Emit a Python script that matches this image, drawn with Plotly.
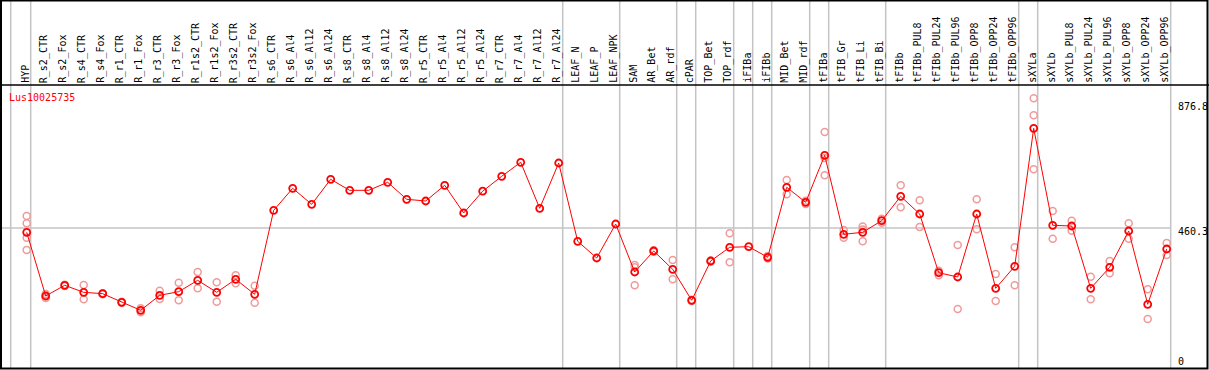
import plotly.graph_objects as go

categories = ["HYP", "R_s2_CTR", "R_s2_Fox", "R_s4_CTR", "R_s4_Fox", "R_r1_CTR", "R_r1_Fox",
              "R_r3_CTR", "R_r3_Fox", "R_r1s2_CTR", "R_r1s2_Fox", "R_r3s2_CTR", "R_r3s2_Fox",
              "R_s6_CTR", "R_s6_Al4", "R_s6_Al12", "R_s6_Al24", "R_s8_CTR", "R_s8_Al4", "R_s8_Al12",
              "R_s8_Al24", "R_r5_CTR", "R_r5_Al4", "R_r5_Al12", "R_r5_Al24", "R_r7_CTR", "R_r7_Al4",
              "R_r7_Al12", "R_r7_Al24", "LEAF_N", "LEAF_P", "LEAF_NPK", "SAM", "AR_Bet", "AR_rdf",
              "cPAR", "TOP_Bet", "TOP_rdf", "iFIBa", "iFIBb", "MID_Bet", "MID_rdf", "tFIBa",
              "tFIB_Gr", "tFIB_Li", "tFIB_Bi", "tFIBb", "tFIBb_PUL8", "tFIBb_PUL24", "tFIBb_PUL96",
              "tFIBb_OPP8", "tFIBb_OPP24", "tFIBb_OPP96", "sXYLa", "sXYLb", "sXYLb_PUL8",
              "sXYLb_PUL24", "sXYLb_PUL96", "sXYLb_OPP8", "sXYLb_OPP24", "sXYLb_OPP96"]

means = [445.9, 233.5, 269.1, 245.8, 241.2, 212.4, 185.7, 235.8, 247.8, 285.8, 245.8, 289.1, 239.1,
         519.2, 592.6, 539.3, 622.6, 585.9, 585.9, 612.6, 555.9, 550.3, 602.6, 510.3, 582.9, 632.6,
         679.3, 525.9, 677.0, 415.9, 360.2, 473.6, 313.5, 383.5, 322.4, 219.1, 350.2, 395.9, 397.9,
         362.5, 596.0, 545.9, 702.6, 439.2, 445.9, 484.6, 565.9, 506.9, 311.2, 296.8, 506.9, 259.1,
         332.4, 792.7, 469.2, 466.9, 259.1, 329.2, 450.2, 205.8, 390.2]

replicates = [
    [500.3, 475.9, 427.9, 386.9], [240, 227], [271, 267], [270.1, 222.3], [243, 239], [214, 211],
    [192.4, 179], [251.2, 223.4], [277.8, 219.1], [313.5, 259.1], [279.1, 214.4], [302.5, 275.8],
    [267.8, 211.1],
    [], [], [], [], [], [], [], [], [], [], [], [], [], [], [], [],
    [], [], [],
    [336.8, 329.2, 269.1], [386, 381], [353.5, 289.1], [221, 217], [352, 348], [442.6, 345.8],
    [], [366.8, 358.2], [620.3, 572.6], [551, 540], [780.4, 693.7, 636.0], [453.6, 427.9],
    [465, 455, 416], [491, 478], [602.6, 529.3], [552.6, 463.6], [318, 303], [403.5, 190.1],
    [555.9, 455.9], [306.8, 216.8], [395.9, 269.1], [892.8, 836.1, 656.0], [516.9, 424.6],
    [484.6, 451.2], [297.8, 222.4], [350.2, 309.2], [475.9, 424.6], [255.8, 156.7], [410.2, 370.2]]

group_ends = [-1, 0, 28, 31, 34, 35, 37, 38, 39, 41, 42, 45, 52, 53, 60]
gene = "Lus10025735"
ytick_vals = [876.8, 460.3, 0]

W, H = 1209, 370
X0, DX = 26.7, 19.0        # pixel of first column, pixel step
Y0, SY = 366.0, 3.335      # pixel of value 0, units per pixel

def px2x(p):
    return (p - X0) / DX

def py2paper(p):
    return 1 - p / H

idx = list(range(len(categories)))
rx, ry = [], []
for i, reps in enumerate(replicates):
    for v in reps:
        rx.append(i)
        ry.append(v)

fig = go.Figure()
fig.add_trace(go.Scatter(x=rx, y=ry, mode="markers",
                         marker=dict(symbol="circle-open", size=7, color="#f09a9a",
                                     line=dict(width=1.5, color="#f09a9a")),
                         hoverinfo="skip"))
fig.add_trace(go.Scatter(x=idx, y=means, mode="lines+markers",
                         line=dict(color="#ff0000", width=1),
                         marker=dict(symbol="circle-open", size=7, color="#ff0000",
                                     line=dict(width=1.8, color="#ff0000"))))

shapes = []
for g in group_ends:
    xb = g + 4.0 / DX if g >= 0 else px2x(10.7)
    shapes.append(dict(type="line", xref="x", yref="paper", x0=xb, x1=xb,
                       y0=py2paper(368), y1=py2paper(0),
                       line=dict(color="#c4c4c4", width=1.5), layer="below"))
shapes.append(dict(type="line", xref="paper", yref="y", x0=1 / W, x1=1170.5 / W,
                   y0=ytick_vals[1], y1=ytick_vals[1],
                   line=dict(color="#c4c4c4", width=1.5), layer="below"))
shapes.append(dict(type="line", xref="paper", yref="paper", x0=0, x1=1,
                   y0=py2paper(85), y1=py2paper(85), line=dict(color="black", width=1.5)))
shapes.append(dict(type="rect", xref="paper", yref="paper", x0=1 / W, x1=1207.5 / W,
                   y0=py2paper(368.5), y1=py2paper(0.5), line=dict(color="black", width=2)))

annotations = []
font = dict(family="DejaVu Sans Mono", size=10, color="black")
for i, c in enumerate(categories):
    annotations.append(dict(x=i - 2.0 / DX, y=py2paper(84), xref="x", yref="paper",
                            text=c, textangle=-90, showarrow=False, xanchor="center",
                            yanchor="bottom", font=font, borderpad=0))
annotations.append(dict(x=8 / W, y=py2paper(97.5), xref="paper", yref="paper", text=gene,
                        showarrow=False, xanchor="left", yanchor="middle", borderpad=0,
                        font=dict(family="DejaVu Sans Mono", size=10, color="#ff0000")))
for v, pyc in zip(ytick_vals, [106.7, 231.7, 361.7]):
    annotations.append(dict(x=1177 / W, y=py2paper(pyc), xref="paper", yref="paper",
                            text=("%g" % v if v == 0 else "%.1f" % v), showarrow=False,
                            xanchor="left", yanchor="middle", borderpad=0, font=font))

fig.update_layout(
    width=W, height=H, margin=dict(l=0, r=0, t=0, b=0),
    paper_bgcolor="white", plot_bgcolor="white", showlegend=False,
    xaxis=dict(range=[px2x(0), px2x(W)], visible=False, fixedrange=True),
    yaxis=dict(range=[(Y0 - H) * SY, Y0 * SY], visible=False, fixedrange=True),
    shapes=shapes, annotations=annotations,
)
fig.write_html("out.html", config={"displayModeBar": False},
               post_script="document.body.style.margin='0px';document.body.style.overflow='hidden';")
